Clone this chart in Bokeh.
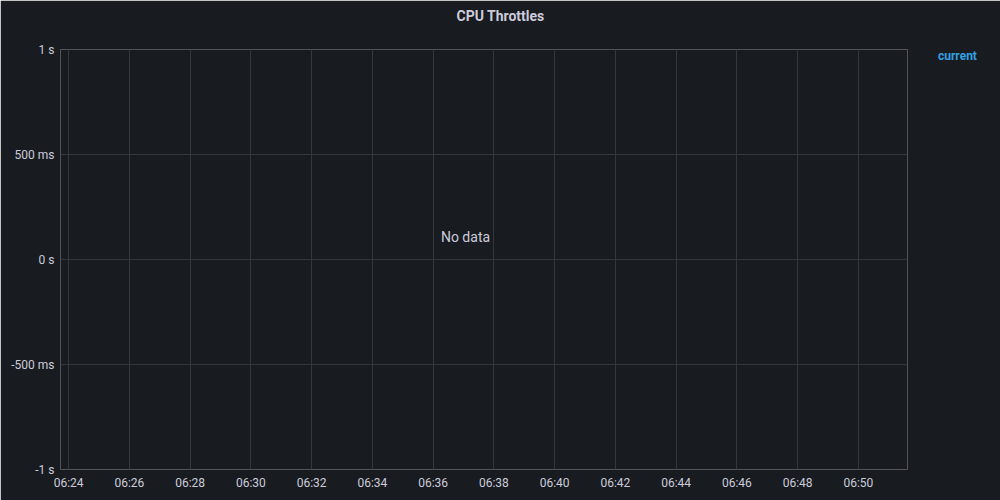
from datetime import datetime
from bokeh.plotting import figure
from bokeh.models import FixedTicker, DatetimeTickFormatter, Label, Range1d, Legend, LegendItem, Title
from bokeh.embed import file_html
from bokeh.resources import INLINE

# ---- data ----
title_text = "CPU Throttles"
series_name = "current"
series_times = []     # no data points
series_values = []
x_tick_labels = ["06:24", "06:26", "06:28", "06:30", "06:32", "06:34", "06:36",
                 "06:38", "06:40", "06:42", "06:44", "06:46", "06:48", "06:50"]
y_tick_values = [-1.0, -0.5, 0.0, 0.5, 1.0]
y_tick_labels = ["-1 s", "-500 ms", "0 s", "500 ms", "1 s"]
x_start = "06:23:44"
x_end = "06:51:37"
day = "2024-01-01"

BG = "#181b1f"
GRID = "#34373c"
TEXT = "#ccccdc"
BLUE = "#33a2e5"
FONT = "Roboto"

def ts(s):
    fmt = "%H:%M:%S" if s.count(":") == 2 else "%H:%M"
    return datetime.strptime(day + " " + s, "%Y-%m-%d " + fmt)

x_ticks_ms = [ts(t).timestamp() * 1000 for t in x_tick_labels]

p = figure(frame_width=847, frame_height=420, x_axis_type="datetime",
           x_range=Range1d(ts(x_start), ts(x_end)), y_range=Range1d(-1, 1),
           output_backend="svg", toolbar_location=None,
           outline_line_color=None, outline_line_alpha=0, outline_line_width=0,
           min_border_left=60, min_border_right=93, min_border_top=49, min_border_bottom=31)
p.title = None
p.background_fill_color = BG
p.border_fill_color = BG

# spacer nearest the frame, then the title above it
p.add_layout(Title(text=" ", text_font_size="1px", standoff=18, text_color=BG), "above")
p.add_layout(Title(text=title_text, align="left", offset=396, vertical_align="bottom",
                   standoff=10, text_color=TEXT, text_font=FONT, text_font_size="14px",
                   text_font_style="bold"), "above")

r = p.line([ts(t) for t in series_times], series_values,
           line_color=BLUE, line_width=1)

p.xaxis.ticker = FixedTicker(ticks=x_ticks_ms)
p.xaxis.formatter = DatetimeTickFormatter(minutes="%H:%M", hours="%H:%M", minsec="%H:%M")
p.yaxis.ticker = FixedTicker(ticks=y_tick_values)
p.yaxis.major_label_overrides = {v: l for v, l in zip(y_tick_values, y_tick_labels)}

for ax in p.axis:
    ax.axis_line_color = None
    ax.axis_line_alpha = 0
    ax.major_tick_line_color = None
    ax.minor_tick_line_color = None
    ax.major_tick_out = 0
    ax.major_tick_in = 0
    ax.minor_tick_out = 0
    ax.minor_tick_in = 0
    ax.major_label_text_color = TEXT
    ax.major_label_text_font = FONT
    ax.major_label_text_font_size = "12px"
p.xaxis.major_label_standoff = 6
p.yaxis.major_label_standoff = 6

p.xgrid.grid_line_color = GRID
p.ygrid.grid_line_color = GRID
p.xgrid.ticker = FixedTicker(ticks=x_ticks_ms)
p.ygrid.ticker = FixedTicker(ticks=y_tick_values)

legend = Legend(items=[LegendItem(label=series_name, renderers=[r])],
                location="top_left", glyph_width=0, glyph_height=10, label_height=10,
                label_standoff=31, padding=0, margin=0, spacing=0,
                border_line_color=None, background_fill_alpha=0,
                label_text_color=BLUE, label_text_font=FONT,
                label_text_font_size="12px", label_text_font_style="bold")
p.add_layout(legend, "right")

# screen units are measured from the frame's bottom-left corner
p.add_layout(Label(x=405, y=233, x_units="screen", y_units="screen", text="No data",
                   text_color=TEXT, text_font=FONT, text_font_size="14px",
                   text_align="center", text_baseline="middle"))

open("out.html", "w").write(file_html(p, INLINE))
